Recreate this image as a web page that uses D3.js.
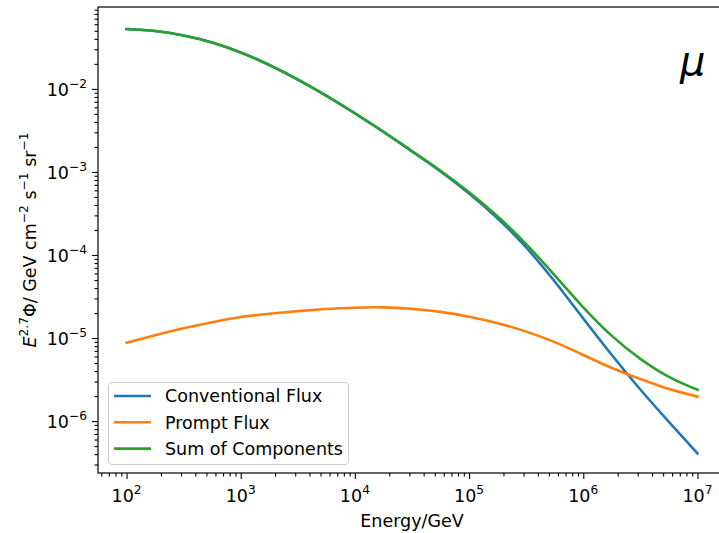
<!DOCTYPE html>
<html>
<head>
<meta charset="utf-8">
<script src="https://cdn.jsdelivr.net/npm/d3@7"></script>
<style>
  body { margin: 0; background: #fff; }
  svg { display: block; font-family: "DejaVu Sans", sans-serif; }
</style>
</head>
<body>
<svg id="chart" width="719" height="533"></svg>
<script>
// energy grid (GeV), quarter decades from 1e2 to 1e7
const energyGeV = [1e2, 1.78e2, 3.16e2, 5.62e2, 1e3, 1.78e3, 3.16e3, 5.62e3, 1e4, 1.78e4, 3.16e4,
  5.62e4, 1e5, 1.78e5, 3.16e5, 5.62e5, 1e6, 1.78e6, 3.16e6, 5.62e6, 1e7];

// E^2.7 * flux
const conventionalFlux = [0.0526, 0.0498, 0.0440, 0.0362, 0.0274, 0.0194, 0.01295, 8.26e-3, 5.07e-3,
  3.03e-3, 1.765e-3, 1.012e-3, 5.50e-4, 2.749e-4, 1.231e-4, 4.795e-5, 1.719e-5, 6.248e-6, 2.401e-6, 9.80e-7, 4.09e-7];
const promptFlux = [8.79e-6, 1.084e-5, 1.313e-5, 1.551e-5, 1.791e-5, 1.958e-5, 2.111e-5, 2.237e-5, 2.32e-5,
  2.339e-5, 2.243e-5, 2.064e-5, 1.807e-5, 1.51e-5, 1.195e-5, 8.93e-6, 6.25e-6, 4.36e-6, 3.21e-6, 2.43e-6, 1.97e-6];
const sumFlux = [0.0526, 0.0498, 0.0440, 0.0362, 0.0274, 0.0194, 0.01297, 8.28e-3, 5.09e-3,
  3.05e-3, 1.787e-3, 1.033e-3, 5.68e-4, 2.90e-4, 1.351e-4, 5.69e-5, 2.344e-5, 1.061e-5, 5.61e-6, 3.41e-6, 2.38e-6];

const seriesNames = ["Conventional Flux", "Prompt Flux", "Sum of Components"];
const seriesColors = ["#1f77b4", "#ff7f0e", "#2ca02c"];

// tick exponents
const xTickExp = [2, 3, 4, 5, 6, 7];
const yTickExp = [-6, -5, -4, -3, -2];

const fontSize = 17.5;

// plot box (right side runs past the picture edge like the original)
const plotL = 98, plotR = 726, plotT = 7, plotB = 473;

const svg = d3.select("#chart");

const x = d3.scaleLog().domain([Math.pow(10, 1.75), Math.pow(10, 7.25)]).range([plotL, plotR]);
const y = d3.scaleLog().domain([Math.pow(10, -6.625), Math.pow(10, -1.014)]).range([plotB, plotT]);

// minor ticks 2..9 x 10^n inside the domain
function minorTicks(scale) {
  const [a, b] = scale.domain();
  const out = [];
  for (let p = Math.floor(Math.log10(a)); p <= Math.ceil(Math.log10(b)); p++) {
    for (let k = 2; k <= 9; k++) {
      const v = k * Math.pow(10, p);
      if (v >= a && v <= b) out.push(v);
    }
  }
  return out;
}

// writes "base^sup" style pieces into a text element
function writeParts(textSel, parts) {
  let raised = false;
  parts.forEach(p => {
    const t = textSel.append("tspan").text(p.s);
    if (p.sup) {
      t.attr("font-size", fontSize * 0.7);
      if (!raised) { t.attr("dy", -fontSize * 0.45); raised = true; }
    } else {
      if (raised) { t.attr("dy", fontSize * 0.45); raised = false; }
    }
    if (p.it) t.attr("font-style", "italic");
  });
}

svg.append("defs").append("clipPath").attr("id", "clip")
  .append("rect").attr("x", plotL).attr("y", plotT).attr("width", plotR - plotL).attr("height", plotB - plotT);

// lines
const line = d3.line()
  .x(d => x(d[0]))
  .y(d => y(d[1]))
  .curve(d3.curveNatural);

const allSeries = [conventionalFlux, promptFlux, sumFlux];
const plot = svg.append("g").attr("clip-path", "url(#clip)");
allSeries.forEach((vals, i) => {
  plot.append("path")
    .datum(energyGeV.map((e, j) => [e, vals[j]]))
    .attr("d", line)
    .attr("fill", "none")
    .attr("stroke", seriesColors[i])
    .attr("stroke-width", 2.6)
    .attr("stroke-linecap", "square");
});

// axes: ticks only, labels added by hand for the superscripts
const xAxisG = svg.append("g").attr("transform", `translate(0,${plotB})`);
xAxisG.append("g").call(d3.axisBottom(x).tickValues(minorTicks(x)).tickSize(3.5).tickFormat(""));
xAxisG.append("g").call(d3.axisBottom(x).tickValues(xTickExp.map(e => Math.pow(10, e))).tickSize(6.1).tickFormat(""));
xAxisG.selectAll(".domain").remove();
xAxisG.selectAll("line").attr("stroke", "#000").attr("stroke-width", 1.1);

const yAxisG = svg.append("g").attr("transform", `translate(${plotL},0)`);
yAxisG.append("g").call(d3.axisLeft(y).tickValues(minorTicks(y)).tickSize(3.5).tickFormat(""));
yAxisG.append("g").call(d3.axisLeft(y).tickValues(yTickExp.map(e => Math.pow(10, e))).tickSize(6.1).tickFormat(""));
yAxisG.selectAll(".domain").remove();
yAxisG.selectAll("line").attr("stroke", "#000").attr("stroke-width", 1.1);

// tick labels
xTickExp.forEach(e => {
  const t = svg.append("text")
    .attr("x", x(Math.pow(10, e)))
    .attr("y", plotB + 29)
    .attr("text-anchor", "middle")
    .attr("font-size", fontSize)
    .attr("fill", "#000");
  writeParts(t, [{ s: "10" }, { s: String(e), sup: true }]);
});

yTickExp.forEach(e => {
  const t = svg.append("text")
    .attr("x", plotL - 11)
    .attr("y", y(Math.pow(10, e)) + 7)
    .attr("text-anchor", "end")
    .attr("font-size", fontSize)
    .attr("fill", "#000");
  writeParts(t, [{ s: "10" }, { s: "\u2212" + Math.abs(e), sup: true }]);
});

// frame
svg.append("rect")
  .attr("x", plotL).attr("y", plotT)
  .attr("width", plotR - plotL).attr("height", plotB - plotT)
  .attr("fill", "none")
  .attr("stroke", "#000")
  .attr("stroke-width", 1.2);

// axis titles
svg.append("text")
  .attr("x", (plotL + plotR) / 2)
  .attr("y", 527)
  .attr("text-anchor", "middle")
  .attr("font-size", fontSize)
  .text("Energy/GeV");

const yTitle = svg.append("text")
  .attr("transform", `translate(36,${(plotT + plotB) / 2}) rotate(-90)`)
  .attr("text-anchor", "middle")
  .attr("font-size", fontSize);
writeParts(yTitle, [
  { s: "E", it: true }, { s: "2.7", sup: true }, { s: "\u03A6/ GeV cm" }, { s: "\u22122", sup: true },
  { s: " s" }, { s: "\u22121", sup: true }, { s: " sr" }, { s: "\u22121", sup: true }
]);

// particle label
svg.append("text")
  .attr("x", 680)
  .attr("y", 75)
  .attr("font-size", 40)
  .attr("font-style", "italic")
  .text("\u03BC");

// legend
const legend = svg.append("g");
legend.append("rect")
  .attr("x", 108.5).attr("y", 382.5)
  .attr("width", 240).attr("height", 82)
  .attr("rx", 3.5)
  .attr("fill", "#fff").attr("fill-opacity", 0.8)
  .attr("stroke", "#ccc").attr("stroke-width", 1);

seriesNames.forEach((name, i) => {
  const cy = 396 + i * 26.3;
  legend.append("line")
    .attr("x1", 114).attr("x2", 151)
    .attr("y1", cy).attr("y2", cy)
    .attr("stroke", seriesColors[i]).attr("stroke-width", 2.6);
  legend.append("text")
    .attr("x", 165).attr("y", cy + 6.3)
    .attr("font-size", fontSize)
    .text(name);
});
</script>
</body>
</html>
